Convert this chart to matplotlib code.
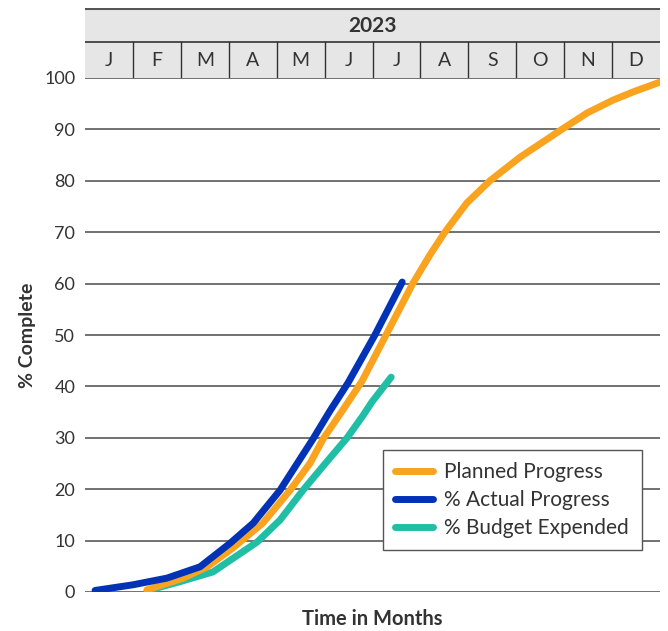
import numpy as np
import matplotlib as mpl
mpl.rcParams['font.family'] = ['Lato', 'DejaVu Sans']
import matplotlib.pyplot as plt
from matplotlib.lines import Line2D

# ---------------------------------------------------------------
# data (x in months from 1 Jan 2023, y in % complete)
year = '2023'
months = ['J', 'F', 'M', 'A', 'M', 'J', 'J', 'A', 'S', 'O', 'N', 'D']
yticks = [0, 10, 20, 30, 40, 50, 60, 70, 80, 90, 100]

planned_x = [1.29, 2.05, 2.55, 3.09, 3.71, 4.28, 4.70, 4.97, 5.38, 5.78, 6.36, 6.84, 7.20,
             7.51, 7.97, 8.45, 9.08, 9.95, 10.48, 11.02, 11.44, 12.0]
planned_y = [0.4, 2.7, 4.9, 8.6, 13.4, 19.8, 25.1, 29.8, 35.4, 41.0, 51.4, 60.0, 65.6,
             70.0, 75.7, 80.0, 84.6, 90.0, 93.2, 95.7, 97.3, 99.2]

actual_x = [0.21, 1.00, 1.71, 2.40, 3.03, 3.51, 4.07, 4.49, 4.76, 5.11, 5.49, 6.05, 6.62]
actual_y = [0.3, 1.4, 2.7, 4.9, 9.5, 13.4, 19.8, 25.9, 29.8, 35.2, 40.7, 50.0, 60.3]

budget_x = [1.31, 1.98, 2.67, 3.59, 4.07, 4.55, 4.97, 5.47, 5.80, 5.99, 6.39]
budget_y = [0.3, 2.0, 3.9, 9.7, 14.0, 19.8, 24.5, 30.0, 34.3, 37.0, 41.8]

c_plan = '#F9A31E'
c_act = '#0233B6'
c_bud = '#20BFA5'
c_txt = '#333333'

# ---------------------------------------------------------------
fig = plt.figure(figsize=(6.68, 6.31), dpi=100, facecolor='w')
x0, x1 = 85/668., 660/668.
yb, yt = 1-592/631., 1-78/631.
ax = fig.add_axes([x0, yb, x1-x0, yt-yb])
axh = fig.add_axes([x0, yt, x1-x0, 70/631.])

# main plot
for y in yticks:
    ax.axhline(y, color='#4a4a4a', lw=1.1, zorder=1)
kw = dict(lw=5, solid_capstyle='round', solid_joinstyle='round')
ax.plot(planned_x, planned_y, color=c_plan, zorder=3, **kw)
ax.plot(actual_x, actual_y, color=c_act, zorder=4, **kw)
ax.plot(budget_x, budget_y, color=c_bud, zorder=2, **kw)
ax.set_xlim(0, 12)
ax.set_ylim(0, 100)
ax.set_yticks(yticks)
ax.set_yticklabels([str(v) for v in yticks], fontsize=13, color=c_txt)
ax.set_xticks([])
ax.tick_params(axis='y', length=0, pad=7)
for s in ax.spines.values():
    s.set_visible(False)
ax.set_xlabel('Time in Months', fontsize=14.5, fontweight='bold', color=c_txt, labelpad=12)
ax.set_ylabel('% Complete', fontsize=14, fontweight='bold', color=c_txt, labelpad=6)

lplan = Line2D([], [], color=c_plan, label='Planned Progress', **kw)
lact = Line2D([], [], color=c_act, label='% Actual Progress', **kw)
lbud = Line2D([], [], color=c_bud, label='% Budget Expended', **kw)
leg = ax.legend(handles=[lplan, lact, lbud], loc='upper left', bbox_to_anchor=(0.518, 0.277),
                borderaxespad=0., fontsize=15, fancybox=False, framealpha=1, edgecolor='#555555',
                handlelength=1.8, handletextpad=0.55, labelspacing=0.38, borderpad=0.6)
leg.get_frame().set_linewidth(1.0)
for t in leg.get_texts():
    t.set_color(c_txt)

# header band
axh.set_xlim(0, 12)
axh.set_ylim(0, 2)
axh.set_facecolor('#E6E6E6')
for s in axh.spines.values():
    s.set_visible(False)
axh.set_xticks([])
axh.set_yticks([])
axh.axhline(2, color='#555555', lw=2.2)
axh.axhline(1.03, color='#333333', lw=1.2)
for i in range(1, 12):
    axh.plot([i, i], [0, 1.03], color='#333333', lw=1.0)
for i, m in enumerate(months):
    axh.text(i+0.5, 0.5, m, ha='center', va='center', fontsize=14, color=c_txt)
axh.text(6, 1.5, year, ha='center', va='center', fontsize=15, fontweight='bold', color=c_txt)

plt.savefig('out.png', dpi=100)
